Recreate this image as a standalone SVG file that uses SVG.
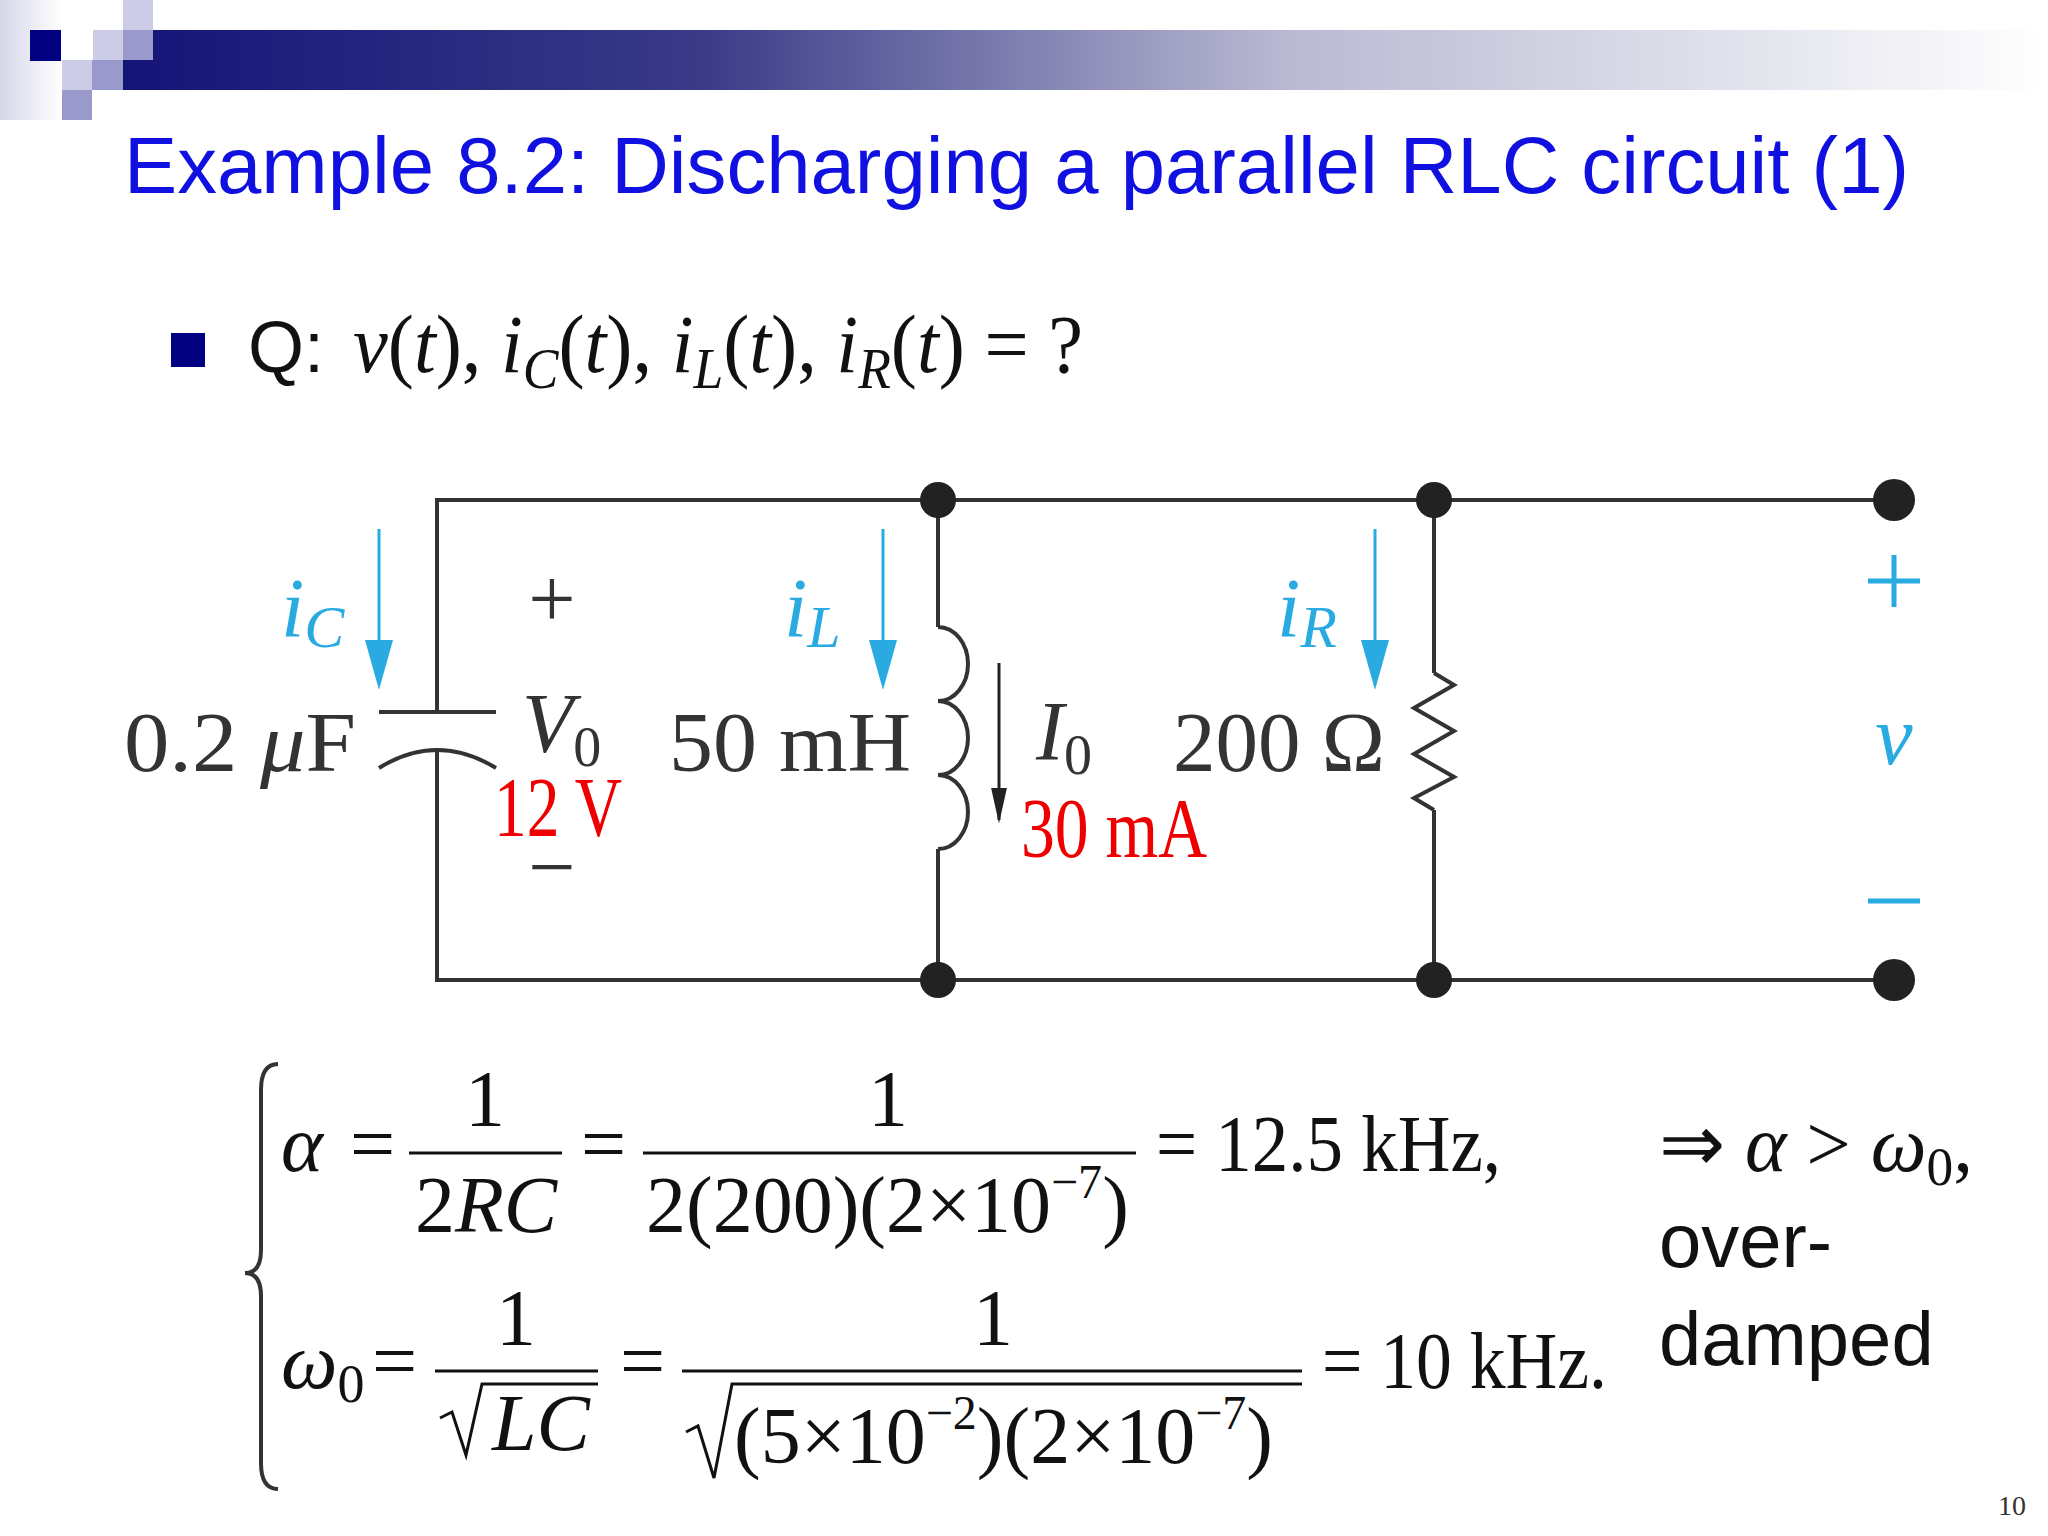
<svg xmlns="http://www.w3.org/2000/svg" width="2048" height="1536" viewBox="0 0 2048 1536">
<defs>
<linearGradient id="bar" x1="0" x2="1" y1="0" y2="0">
<stop offset="0" stop-color="#141478"/><stop offset="0.3" stop-color="#3a3a88"/><stop offset="0.6" stop-color="#b8b8d2"/><stop offset="1" stop-color="#ffffff"/>
</linearGradient>
<linearGradient id="lft" x1="0" x2="1" y1="0" y2="0">
<stop offset="0" stop-color="#d6d6ea"/><stop offset="1" stop-color="#ffffff"/>
</linearGradient>
<marker id="ak" viewBox="0 0 10 10" refX="9" refY="5" markerWidth="36" markerHeight="16" orient="auto" markerUnits="userSpaceOnUse" preserveAspectRatio="none"><path d="M0,0 L10,5 L0,10 z" fill="#222"/></marker>
</defs>
<style>
.w{stroke:#333;stroke-width:4;fill:none}
.t{font-family:"Liberation Serif",serif;fill:#333;font-size:84px}
.r{fill:#e00}
.b{fill:#29abe2}
.e{font-family:"Liberation Serif",serif;fill:#111;font-size:80px}
.i{font-style:italic}
.a{font-family:"Liberation Sans",Arial,sans-serif}
.ln{stroke:#111;stroke-width:3}
</style>
<rect width="2048" height="1536" fill="#fff"/>
<g id="header">
<rect x="0" y="0" width="62" height="120" fill="url(#lft)"/>
<rect x="123" y="30" width="1925" height="60" fill="url(#bar)"/>
<rect x="30" y="30" width="31" height="31" fill="#000080"/>
<rect x="123" y="0" width="30" height="30" fill="#ccccE6"/>
<rect x="93" y="30" width="30" height="30" fill="#ccccE6"/>
<rect x="123" y="30" width="30" height="30" fill="#9999cc"/>
<rect x="62" y="60" width="30" height="30" fill="#ccccE6"/>
<rect x="92" y="60" width="31" height="30" fill="#9999cc"/>
<rect x="62" y="90" width="30" height="30" fill="#9999cc"/>
</g>
<text id="title" x="124" y="193" class="a" font-size="80" fill="#1010e0" textLength="1785" lengthAdjust="spacingAndGlyphs">Example 8.2: Discharging a parallel RLC circuit (1)</text>
<g id="question">
<rect x="171" y="333" width="34" height="34" fill="#000080"/>
<text x="248" y="372" font-size="72" fill="#111" class="a">Q: </text>
<text x="353" y="372" font-size="82" fill="#111" font-family="Liberation Serif,serif" textLength="730" lengthAdjust="spacingAndGlyphs"><tspan font-style="italic">v</tspan>(<tspan font-style="italic">t</tspan>), <tspan font-style="italic">i</tspan><tspan font-style="italic" font-size="56" dy="16">C</tspan><tspan dy="-16">(<tspan font-style="italic">t</tspan>), </tspan><tspan font-style="italic">i</tspan><tspan font-style="italic" font-size="56" dy="16">L</tspan><tspan dy="-16">(<tspan font-style="italic">t</tspan>), </tspan><tspan font-style="italic">i</tspan><tspan font-style="italic" font-size="56" dy="16">R</tspan><tspan dy="-16">(<tspan font-style="italic">t</tspan>) = ?</tspan></text>
</g>
<g id="connectors">
<path class="w" d="M437,712 V500 H1894 M437,751 V980 H1894 M938,500 V627 M938,849 V980 M1434,500 V673 M1434,810 V980"/>
</g>
<g id="capacitor">
<path class="w" stroke-width="6" d="M379,712 H496"/>
<path class="w" stroke-width="6" d="M379,768 Q437,732 496,768"/>
<text class="t" x="124" y="771" textLength="232" lengthAdjust="spacingAndGlyphs">0.2 <tspan class="i">μ</tspan>F</text>
<text class="t" x="552" y="627" text-anchor="middle">+</text>
<text class="t i" x="522" y="752">V<tspan font-size="56" font-style="normal" dy="14">0</tspan></text>
<text class="t r" x="494" y="836" font-size="78" textLength="128" lengthAdjust="spacingAndGlyphs">12 V</text>
<text class="t" x="552" y="895" text-anchor="middle">−</text>
<path stroke="#29abe2" stroke-width="3" d="M379,529 V660"/>
<path class="b" d="M365,640 L393,640 L379,690 z"/>
<text class="t b i" x="281" y="637">i<tspan font-size="60" dy="10">C</tspan></text>
</g>
<g id="inductor">
<path class="w" d="M938,627 a30,37 0 0 1 0,74 a30,37 0 0 1 0,74 a30,37 0 0 1 0,74"/>
<path stroke="#222" stroke-width="3" d="M999,663 V820" marker-end="url(#ak)"/>
<text class="t" x="669" y="771" textLength="242" lengthAdjust="spacingAndGlyphs">50 mH</text>
<text class="t i" x="1036" y="760">I<tspan font-size="56" font-style="normal" dy="14">0</tspan></text>
<text class="t r" x="1021" y="857" textLength="186" lengthAdjust="spacingAndGlyphs">30 mA</text>
<path stroke="#29abe2" stroke-width="3" d="M883,529 V660"/>
<path class="b" d="M869,640 L897,640 L883,690 z"/>
<text class="t b i" x="784" y="637">i<tspan font-size="60" dy="10">L</tspan></text>
</g>
<g id="resistor">
<path class="w" d="M1434,673 L1454,685 L1414,708 L1454,731 L1414,754 L1454,777 L1414,798 L1434,810"/>
<text class="t" x="1173" y="771" textLength="212" lengthAdjust="spacingAndGlyphs">200 Ω</text>
<path stroke="#29abe2" stroke-width="3" d="M1375,529 V660"/>
<path class="b" d="M1361,640 L1389,640 L1375,690 z"/>
<text class="t b i" x="1277" y="637">i<tspan font-size="60" dy="10">R</tspan></text>
</g>
<g id="nodes" fill="#222">
<circle cx="938" cy="500" r="18"/><circle cx="1434" cy="500" r="18"/><circle cx="1894" cy="500" r="21"/>
<circle cx="938" cy="980" r="18"/><circle cx="1434" cy="980" r="18"/><circle cx="1894" cy="980" r="21"/>
</g>
<g id="terminals">
<path stroke="#29abe2" stroke-width="5" d="M1868,581 H1920 M1894,555 V607 M1868,901 H1920"/>
<text class="t b i" x="1894" y="764" text-anchor="middle">v</text>
</g>
<g id="equations">
<path class="w" stroke="#111" stroke-width="3" d="M278,1064 Q261,1064 261,1090 V1250 Q261,1273 245,1273 Q261,1273 261,1296 V1463 Q261,1489 278,1489"/>
<text class="e i" x="281" y="1171">α</text>
<text class="e" x="350" y="1171">=</text>
<text class="e" x="485" y="1126" text-anchor="middle">1</text>
<line class="ln" x1="409" y1="1153" x2="562" y2="1153"/>
<text class="e" x="415" y="1232">2<tspan class="i">RC</tspan></text>
<text class="e" x="581" y="1171">=</text>
<text class="e" x="888" y="1126" text-anchor="middle">1</text>
<line class="ln" x1="643" y1="1153" x2="1136" y2="1153"/>
<text class="e" x="646" y="1232">2(200)(2×10<tspan font-size="48" dy="-34">−7</tspan><tspan dy="34">)</tspan></text>
<text class="e" x="1156" y="1171" textLength="345" lengthAdjust="spacingAndGlyphs">= 12.5 kHz,</text>
<text class="e i" x="281" y="1388">ω<tspan font-size="54" font-style="normal" dy="14">0</tspan></text>
<text class="e" x="372" y="1388">=</text>
<text class="e" x="516" y="1345" text-anchor="middle">1</text>
<line class="ln" x1="435" y1="1371" x2="598" y2="1371"/>
<path class="ln" fill="none" d="M440,1418 L452,1412 L466,1455 L482,1384 H598"/>
<text class="e i" x="492" y="1450">LC</text>
<text class="e" x="620" y="1388">=</text>
<text class="e" x="993" y="1345" text-anchor="middle">1</text>
<line class="ln" x1="682" y1="1371" x2="1302" y2="1371"/>
<path class="ln" fill="none" d="M686,1432 L698,1426 L714,1478 L732,1384 H1302"/>
<text class="e" x="734" y="1463">(5×10<tspan font-size="48" dy="-34">−2</tspan><tspan dy="34">)(2×10</tspan><tspan font-size="48" dy="-34">−7</tspan><tspan dy="34">)</tspan></text>
<text class="e" x="1322" y="1388" textLength="285" lengthAdjust="spacingAndGlyphs">= 10 kHz.</text>
</g>
<g id="conclusion">
<text class="e" x="1659" y="1171" textLength="314" lengthAdjust="spacingAndGlyphs">⇒ <tspan class="i">α</tspan> &gt; <tspan class="i">ω</tspan><tspan font-size="54" dy="14">0</tspan><tspan dy="-14">,</tspan></text>
<text class="a" x="1659" y="1267" font-size="76" fill="#111">over-</text>
<text class="a" x="1659" y="1365" font-size="76" fill="#111">damped</text>
</g>
<text x="1998" y="1515" font-family="Liberation Serif,serif" font-size="28" fill="#333">10</text>
</svg>
